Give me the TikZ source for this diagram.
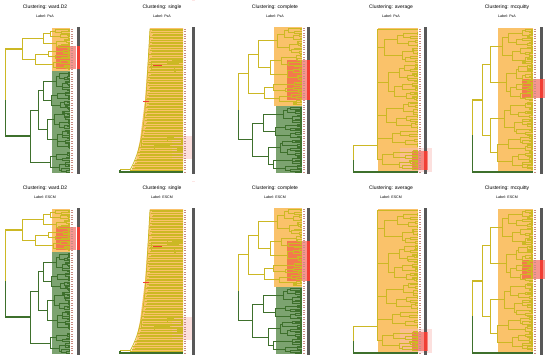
\documentclass[tikz,border=0pt]{standalone}
\usepackage{fontspec}
\setmainfont{Liberation Sans}
\usetikzlibrary{calc}
\definecolor{treeyel}{RGB}{204,184,36}
\definecolor{treegrn}{RGB}{62,112,44}
\definecolor{shadeor}{RGB}{250,194,106}
\definecolor{shadegr}{RGB}{124,163,112}
\definecolor{barg}{RGB}{88,88,88}
\definecolor{hired}{RGB}{240,62,52}
\definecolor{labred}{RGB}{200,140,130}
\tikzset{
  yel/.style={draw=treeyel,line width=0.75pt},
  yelleaf/.style={draw=treeyel,line width=0.35pt},
  grn/.style={draw=treegrn,line width=0.75pt},
  trunk/.style={line width=1.1pt},
  title/.style={font=\fontsize{5}{6}\selectfont,inner sep=0pt},
  tag/.style={font=\fontsize{3.6}{4}\selectfont,inner sep=0pt},
  hilite/.style={fill=hired,opacity=0.55},
  pinkish/.style={fill=hired!35,opacity=0.45},
  labmark/.style={draw=labred,line width=0.3pt},
}
\def\dtP{1.8}\def\dtJ{1.2}
% x position of a tree node
\newcommand\getx[2]{%
  \pgfmathtruncatemacro\gl{#1}%
  \ifnum\gl<\dtL
    \pgfmathsetmacro\gx{\dtR+(\dtF-\dtR)*min(0.97,max(0,1-(1-\gl/\dtL)^\dtP+(\gl>0)*\dtJ*(mod(7*(#2)+3*\gl+\dtS,5)/4-0.5)/\dtL))}%
  \else
    \let\gx\dtF
  \fi}
% balanced tree: x root, x leaf, y first leaf, y last leaf, levels, style, seed
\newcommand\dtree[7]{%
  \def\dtR{#1}\def\dtF{#2}\def\dtL{#5}\def\dtS{#7}%
  \pgfmathsetmacro\dtH{(#4-#3)/(2^#5-1)}%
  \pgfmathtruncatemacro\Lm{#5-1}%
  \foreach \lv in {0,...,\Lm}{%
    \pgfmathtruncatemacro\nn{2^\lv-1}%
    \pgfmathtruncatemacro\dsc{2^(#5-\lv-1)}%
    \foreach \i in {0,...,\nn}{%
      \getx{\lv}{\i}\let\xn\gx
      \getx{\lv+1}{2*\i}\let\xa\gx
      \getx{\lv+1}{2*\i+1}\let\xb\gx
      \pgfmathsetmacro\ya{#3+\dtH*(2*\i*\dsc+(\dsc-1)/2)}%
      \pgfmathsetmacro\yb{#3+\dtH*((2*\i+1)*\dsc+(\dsc-1)/2)}%
      \draw[#6] (\xa,\ya) -- (\xn,\ya) -- (\xn,\yb) -- (\xb,\yb);
    }}}
\newcommand\leafmarks[3]{%
  \foreach \k in {0,...,60}{\pgfmathsetmacro\yk{#2+\k*(#3-#2)/60}\draw[labmark] (#1,\yk) -- ++(2.4,0);}}
\newcommand\cbar[5]{\fill[barg] (#1,#2) rectangle (#1+3,#3); \fill[hired] (#1,#4) rectangle (#1+3,#5);}
\newcommand\dendrow[2]{%
  % ward.D2
  \node[title] (ta#2) at (45,7) {Clustering: ward.D2};
  \node[tag] (la#2) at (45,16) {Label: #1};
  \fill[shadeor] (52,28) rectangle (70,70.5); \fill[shadegr] (52,70.5) rectangle (70,173);
  \fill[hilite] (56,46) rectangle (76,69);
  \dtree{22}{70}{29}{69}{5}{yel}{1}
  \dtree{38}{70}{72}{148}{6}{grn}{2}
  \dtree{50}{70}{152}{172}{4}{grn}{3}
  \draw[grn] (38,110) -- (30,110) -- (30,162) -- (50,162);
  \draw[yel,trunk] (22,49) -- (5.5,49) -- (5.5,100); \draw[grn,trunk] (5.5,100) -- (5.5,136) -- (30,136);
  \leafmarks{70.8}{29}{172}
  \cbar{76.5}{27}{174}{46}{69}
  % single
  \node[title] (tb#2) at (162,7) {Clustering: single};
  \node[tag] (lb#2) at (162,16) {Label: #1};
  \fill[shadeor] (150,28) -- (183,28) -- (183,171) -- (131,171) -- (136,160) -- (140,140) -- (145,100) -- (148,60) -- cycle;
  \fill[pinkish] (172,136) rectangle (192,159);
  \foreach \k in {0,...,88}{\pgfmathsetmacro\tt{\k/88}\pgfmathsetmacro\xk{150-8*\tt-12*\tt^6+mod(\k*7,11)*0.35}
    \draw[yelleaf] (\xk,29+141*\tt) -- (183,29+141*\tt);}
  \draw[yel] plot[domain=0:1,samples=40] ({150-8*\x-12*\x^6},{29+141*\x});
  \dtree{151}{183}{58}{72}{3}{yelleaf}{4}
  \dtree{141}{183}{136}{150}{3}{yelleaf}{5}
  \draw[hired,line width=0.6pt] (153,65) -- (162,65) (143,101) -- (149,101);
  \draw[yel,trunk] (130,169.5) -- (120,169.5); \draw[grn,trunk] (120,169.5) -- (120,172) -- (183,172);
  \leafmarks{183.8}{29}{172}
  \cbar{191.5}{27}{174}{0}{0}
  % complete
  \node[title] (tc#2) at (275,7) {Clustering: complete};
  \node[tag] (lc#2) at (275,16) {Label: #1};
  \fill[shadeor] (274,27) rectangle (302,105.5); \fill[shadegr] (276,105.5) rectangle (302,173);
  \fill[hilite] (287,60) rectangle (307,100);
  \dtree{258}{302}{28}{80}{5}{yel}{6}
  \dtree{264}{302}{82}{104}{4}{yel}{7}
  \draw[yel] (258,54) -- (248,54) -- (248,93) -- (264,93);
  \dtree{252}{302}{107}{172}{6}{grn}{8}
  \draw[yel,trunk] (248,73.5) -- (238.5,73.5) -- (238.5,110); \draw[grn,trunk] (238.5,110) -- (238.5,139.5) -- (252,139.5);
  \leafmarks{302.8}{28}{172}
  \cbar{307}{27}{174}{60}{100}
  % average
  \node[title] (td#2) at (391,7) {Clustering: average};
  \node[tag] (ld#2) at (391,16) {Label: #1};
  \fill[shadeor] (378,28) rectangle (418,170.5);
  \fill[pinkish] (400,148) rectangle (432,172); \fill[hilite] (412,151) rectangle (428,170);
  \draw[yel] (377,29) -- (418,29);
  \dtree{384}{418}{32}{62}{4}{yel}{9}
  \dtree{388}{418}{64}{100}{5}{yel}{10}
  \dtree{386}{418}{102}{128}{4}{yel}{11}
  \dtree{392}{418}{130}{146}{3}{yel}{12}
  \dtree{382}{418}{150}{169}{4}{yel}{13}
  \draw[yel] (377,29) -- (377,159.5) (377,47) -- (384,47) (377,82) -- (388,82) (377,115) -- (386,115) (377,138) -- (392,138) (377,159.5) -- (382,159.5);
  \draw[yel,trunk] (377,145.5) -- (353.5,145.5) -- (353.5,160); \draw[grn,trunk] (353.5,160) -- (353.5,172) -- (418,172);
  \leafmarks{418.8}{29}{172}
  \cbar{424}{27}{174}{151}{170}
  % mcquitty
  \node[title] (te#2) at (507,7) {Clustering: mcquitty};
  \node[tag] (le#2) at (507,16) {Label: #1};
  \fill[shadeor] (498,28) rectangle (533,170.5);
  \fill[hilite] (522,79) rectangle (545,98);
  \dtree{490}{533}{29}{100}{6}{yel}{14}
  \dtree{490}{533}{102}{169}{6}{yel}{15}
  \draw[yel] (490,64.5) -- (482,64.5) -- (482,135.5) -- (490,135.5);
  \draw[yel,trunk] (482,100) -- (472.5,100) -- (472.5,135); \draw[grn,trunk] (472.5,135) -- (472.5,172) -- (533,172);
  \leafmarks{533.8}{29}{172}
  \cbar{540}{27}{174}{79}{98}
}

\begin{document}
\begin{tikzpicture}[x=1pt,y=-1pt]
  \fill[white] (0,0) rectangle (550,360);
  \useasboundingbox (0,0) rectangle (550,360);
  \dendrow{PsA}{1}
  \begin{scope}[shift={(0,181)}]
    \dendrow{ESCM}{2}
  \end{scope}
\end{tikzpicture}
\end{document}
